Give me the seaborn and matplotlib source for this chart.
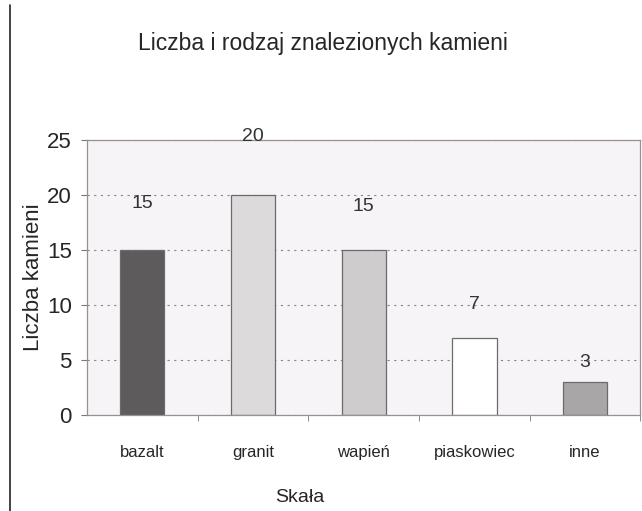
import numpy as np
import pandas as pd
import matplotlib
matplotlib.use("Agg")
import matplotlib.pyplot as plt
import seaborn as sns

# ---------- DATA ----------
rocks = ["bazalt", "granit", "wapień", "piaskowiec", "inne"]
counts = [15, 20, 15, 7, 3]
bar_colors = ["#5e5a5c", "#dcdadb", "#cfcccd", "#ffffff", "#a9a6a8"]
# label offsets above bar tops (points), as in the scanned chart
label_pad = [27, 36, 25, 18, 8]

df = pd.DataFrame({"Skała": rocks, "Liczba": counts})

sns.set_style("white")
plt.rcParams["font.family"] = ["Liberation Sans Narrow", "Liberation Sans", "DejaVu Sans"]

fig = plt.figure(figsize=(6.42, 5.11), dpi=100)
ax = fig.add_axes([0.1355, 0.188, 0.862, 0.538])
ax.set_facecolor("#f6f4f6")

sns.barplot(
    data=df,
    x="Skała",
    y="Liczba",
    hue="Skała",
    palette=bar_colors,
    width=0.4,
    edgecolor="#6e6a6c",
    linewidth=0.9,
    legend=False,
    ax=ax,
)

ax.set_xlim(-0.5, len(rocks) - 0.5)
ax.set_ylim(0, 25)
ax.set_yticks([0, 5, 10, 15, 20, 25])
ax.yaxis.grid(True, linestyle=(0, (2, 4)), color="#8a8688", linewidth=0.8)
ax.set_axisbelow(True)

for sp in ax.spines.values():
    sp.set_color("#9a8f94")
    sp.set_linewidth(0.9)

ax.tick_params(axis="y", labelsize=16, pad=7, length=4, left=True, color="#777")
for lbl in ax.get_yticklabels():
    lbl.set_family(["Liberation Sans", "DejaVu Sans"])
ax.tick_params(axis="x", labelsize=12, pad=22, length=0)
ax.set_xticks(np.arange(len(rocks)) + 0.5, minor=True)
ax.tick_params(axis="x", which="minor", length=4, bottom=True, color="#777")

for i, v in enumerate(counts):
    ax.annotate(str(v), (i, v), xytext=(0, label_pad[i]), textcoords="offset points",
                ha="center", va="bottom", fontsize=14, color="#333",
                family=["Liberation Sans", "DejaVu Sans"])

ax.set_ylabel("Liczba kamieni", fontsize=16,
              family=["Liberation Sans", "DejaVu Sans"])
ax.yaxis.set_label_coords(-0.078, 0.5)
ax.set_xlabel("Skała", fontsize=14)
ax.xaxis.set_label_coords(0.385, -0.27)

fig.text(0.503, 0.915, "Liczba i rodzaj znalezionych kamieni", ha="center", va="center",
         fontsize=16.5)

# page edge line visible in the scan
fig.add_artist(plt.Line2D([0.016, 0.016], [0.0, 0.99], color="#222", linewidth=1.2))

fig.savefig("out.png", dpi=100)
